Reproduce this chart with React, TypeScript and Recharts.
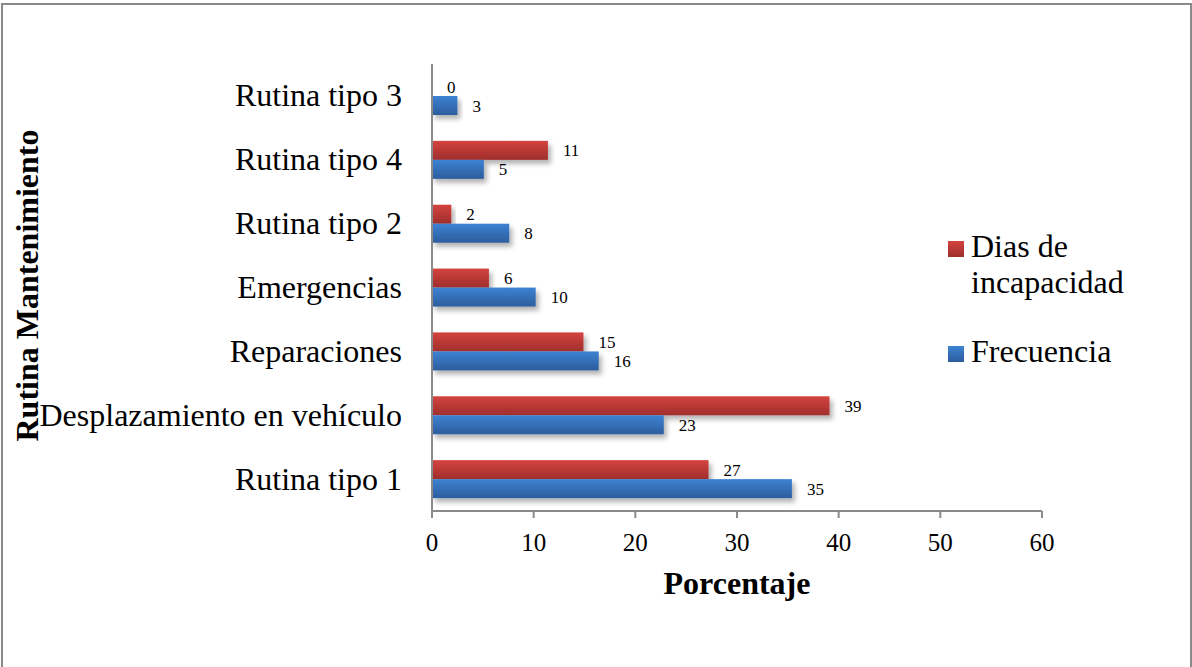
import React from 'react';
import { BarChart, Bar, XAxis, YAxis, Legend, LabelList } from 'recharts';

// Categories listed top to bottom as they appear on the vertical axis
const categories = [
  'Rutina tipo 3',
  'Rutina tipo 4',
  'Rutina tipo 2',
  'Emergencias',
  'Reparaciones',
  'Desplazamiento en vehículo',
  'Rutina tipo 1',
];

// Percentages per routine
const diasIncapacidad = [0, 11.4, 1.9, 5.6, 14.9, 39.1, 27.2];
const frecuencia = [2.5, 5.1, 7.6, 10.2, 16.4, 22.8, 35.4];

const xTicks = [0, 10, 20, 30, 40, 50, 60];
const seriesNames = ['Dias de incapacidad', 'Frecuencia'];
const legendLines: Record<string, string[]> = {
  'Dias de incapacidad': ['Dias de', 'incapacidad'],
  Frecuencia: ['Frecuencia'],
};

const data = categories.map((name, i) => ({
  name,
  dias: diasIncapacidad[i],
  frecuencia: frecuencia[i],
}));

const FONT = '"Liberation Serif", "Times New Roman", Times, serif';
const AXIS_GREY = '#8a8a8a';

function CategoryTick(props: any) {
  const { x, y, payload } = props;
  return (
    <text x={x} y={y} dy="0.33em" textAnchor="end" fontFamily={FONT} fontSize={32} fill="#000">
      {payload.value}
    </text>
  );
}

function ValueTick(props: any) {
  const { x, y, payload } = props;
  return (
    <text x={x} y={y} dy={33} textAnchor="middle" fontFamily={FONT} fontSize={25} fill="#000">
      {payload.value}
    </text>
  );
}

function XTitle(props: any) {
  const vb = props.viewBox || { x: 432, y: 511, width: 610, height: 60 };
  return (
    <text
      x={vb.x + vb.width / 2}
      y={vb.y + 83}
      textAnchor="middle"
      fontFamily={FONT}
      fontWeight="bold"
      fontSize={32}
      fill="#000"
    >
      Porcentaje
    </text>
  );
}

function YTitle(props: any) {
  const vb = props.viewBox || { x: 0, y: 64, width: 432, height: 447 };
  const cx = 38;
  const cy = vb.y + vb.height / 2 - 2;
  return (
    <text
      x={cx}
      y={cy}
      transform={`rotate(-90, ${cx}, ${cy})`}
      textAnchor="middle"
      fontFamily={FONT}
      fontWeight="bold"
      fontSize={32}
      fill="#000"
    >
      Rutina Mantenimiento
    </text>
  );
}

function SeriesLegend(props: any) {
  const payload = props.payload || [];
  const blockTop = [0, 105];
  return (
    <svg width={220} height={150} style={{ overflow: 'visible' }}>
      {payload.map((entry: any, i: number) => {
        const name = entry.value as string;
        const lines = legendLines[name] || [name];
        const base = 32 + blockTop[i];
        return (
          <g key={name}>
            <rect x={8} y={base - 16} width={16} height={16} fill={`url(#grad-${i})`} />
            {lines.map((ln, j) => (
              <text key={ln} x={31} y={base + j * 36} fontFamily={FONT} fontSize={32} fill="#000">
                {ln}
              </text>
            ))}
          </g>
        );
      })}
    </svg>
  );
}

function ShadowBar(props: any) {
  const { x, y, width, height, fill } = props;
  if (!width || width <= 0) return null;
  return <rect x={x} y={y} width={width} height={height} fill={fill} filter="url(#barShadow)" />;
}

const roundLabel = (v: any) => Math.round(Number(v));

export default function App() {
  return (
    <div
      style={{
        position: 'absolute',
        left: 0,
        top: 0,
        width: 1192,
        height: 667,
        overflow: 'hidden',
        background: '#fff',
      }}
    >
      <div
        style={{
          position: 'absolute',
          left: 1,
          top: 3,
          width: 1191,
          height: 700,
          border: `2px solid ${AXIS_GREY}`,
          boxSizing: 'border-box',
        }}
      />
      <div style={{ position: 'absolute', left: 0, top: 0 }}>
        <BarChart
          width={1192}
          height={667}
          data={data}
          layout="vertical"
          margin={{ top: 64, right: 150, bottom: 96, left: 0 }}
          barGap={0}
          barSize={19}
        >
          <defs>
            <linearGradient id="grad-0" x1="0" y1="0" x2="0" y2="1">
              <stop offset="0%" stopColor="#d4433f" />
              <stop offset="100%" stopColor="#9f2e2c" />
            </linearGradient>
            <linearGradient id="grad-1" x1="0" y1="0" x2="0" y2="1">
              <stop offset="0%" stopColor="#3d82d2" />
              <stop offset="100%" stopColor="#2c5d9d" />
            </linearGradient>
            <filter id="barShadow" x="-10%" y="-30%" width="130%" height="190%">
              <feDropShadow dx="3" dy="4" stdDeviation="2.5" floodColor="#000" floodOpacity="0.3" />
            </filter>
          </defs>
          <XAxis
            type="number"
            domain={[0, 60]}
            ticks={xTicks}
            interval={0}
            axisLine={{ stroke: AXIS_GREY, strokeWidth: 2 }}
            tickLine={{ stroke: AXIS_GREY, strokeWidth: 2 }}
            tickSize={7}
            tickMargin={0}
            tick={<ValueTick />}
            height={60}
            label={<XTitle />}
          />
          <YAxis
            type="category"
            dataKey="name"
            width={432}
            axisLine={{ stroke: AXIS_GREY, strokeWidth: 2 }}
            tickLine={false}
            tickSize={0}
            tickMargin={30}
            interval={0}
            tick={<CategoryTick />}
            label={<YTitle />}
          />
          <Legend
            layout="horizontal"
            align="center"
            verticalAlign="middle"
            wrapperStyle={{ position: 'absolute', left: 940, top: 225, width: 220, height: 150 }}
            content={<SeriesLegend />}
          />
          <Bar
            dataKey="dias"
            name={seriesNames[0]}
            fill="url(#grad-0)"
            shape={<ShadowBar />}
            isAnimationActive={false}
            legendType="square"
          >
            <LabelList
              dataKey="dias"
              position="right"
              offset={15}
              formatter={roundLabel}
              fontFamily={FONT}
              fontSize={17}
              fill="#000"
            />
          </Bar>
          <Bar
            dataKey="frecuencia"
            name={seriesNames[1]}
            fill="url(#grad-1)"
            shape={<ShadowBar />}
            isAnimationActive={false}
            legendType="square"
          >
            <LabelList
              dataKey="frecuencia"
              position="right"
              offset={15}
              formatter={roundLabel}
              fontFamily={FONT}
              fontSize={17}
              fill="#000"
            />
          </Bar>
        </BarChart>
      </div>
    </div>
  );
}
